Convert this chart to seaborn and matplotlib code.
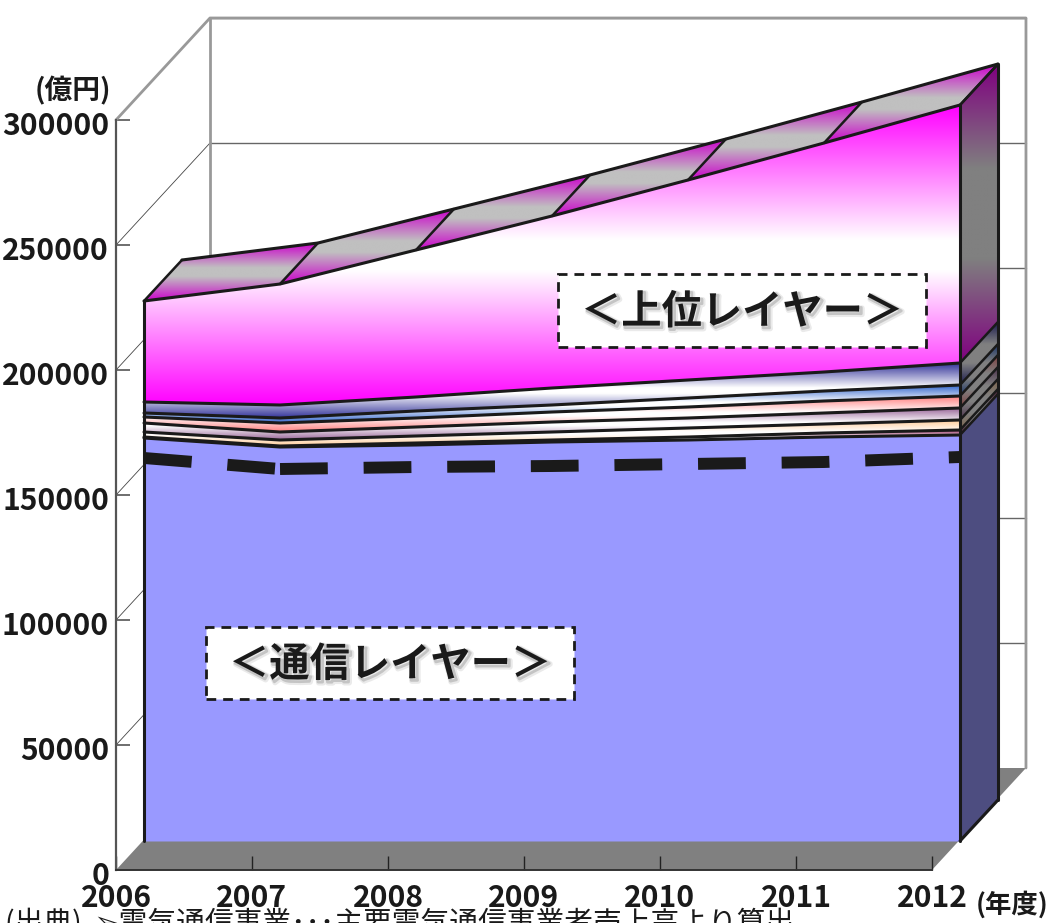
import numpy as np
import pandas as pd
import matplotlib
matplotlib.use('Agg')
import matplotlib.pyplot as plt
import matplotlib.patheffects as pe
from matplotlib.colors import to_rgb
from matplotlib.patches import Polygon, Rectangle
from matplotlib.transforms import ScaledTranslation
import seaborn as sns

years = [2006, 2007, 2008, 2009, 2010, 2011, 2012]
y_ticks = [0, 50000, 100000, 150000, 200000, 250000, 300000]

# stacked layers, bottom to top (oku yen)
tsushin = [161200, 157600, 158400, 159600, 160400, 161600, 162400]
layer_a = [400, 400, 800, 800, 1200, 1600, 2000]
layer_b = [2000, 2400, 2800, 3200, 3600, 3600, 4000]
layer_c = [3600, 3200, 3600, 4000, 4000, 4400, 4800]
layer_d = [2400, 3600, 3600, 4000, 4400, 4800, 4800]
layer_e = [1600, 2000, 2800, 2800, 3600, 4000, 4400]
layer_f = [4400, 5200, 5600, 6800, 7200, 7600, 8800]
layer_g = [40400, 48400, 58800, 68800, 80000, 91600, 103200]
dashed_total = [153200, 148800, 149600, 150000, 150800, 151600, 153600]

layer_colors = ['#993366', '#ffcc99', '#996699', '#ff8080', '#3366cc', '#333399', '#ff00ff']

W, H = 1057, 923
sns.set_theme(style='white')
plt.rcParams['font.family'] = ['Noto Sans CJK JP', 'DejaVu Sans']

fig = plt.figure(figsize=(W / 100, H / 100), dpi=100)
ax = fig.add_axes([116 / W, (H - 870) / H, 816 / W, 750 / H])
ax.set_facecolor('none')
ax.set_autoscale_on(False)
ax.set_xlim(2006, 2012)
ax.set_ylim(0, 300000)

# depth offsets of the fake 3d box, in data units
wall_dx, wall_dy = 0.691, 40800
front_dx, front_dy = 0.206, 11600
back_dx, back_dy = 0.485, 28000


def line(xs, ys, color='k', lw=2.2, z=5, **kw):
    sns.lineplot(x=list(xs), y=list(ys), ax=ax, color=color, linewidth=lw, zorder=z,
                 estimator=None, sort=False, clip_on=False, **kw)


def grad_poly(xs, ys, edge, mid, z, flat=0.15):
    # vertical gradient over the polygon's box: edge colour at both ends, mid in the centre
    edge, mid = np.array(to_rgb(edge)), np.array(to_rgb(mid))
    t = np.abs(np.linspace(-1, 1, 256))
    t = np.clip((t - flat) / (1 - flat), 0, 1)[:, None, None]
    arr = mid[None, None, :] + (edge - mid)[None, None, :] * t
    im = ax.imshow(arr, extent=[min(xs), max(xs), min(ys), max(ys)], origin='lower',
                   aspect='auto', zorder=z, interpolation='bilinear')
    im.set_clip_box(fig.bbox)
    im.set_clip_path(Polygon(np.column_stack([xs, ys]), closed=True, transform=ax.transData))


def shade(c, f):
    return tuple(np.array(to_rgb(c)) * f)


x = np.array(years, dtype=float)

# floor and walls
ax.add_patch(Polygon([[2006, 0], [2012, 0], [2012 + wall_dx, wall_dy], [2006 + wall_dx, wall_dy]],
                     closed=True, fc='#808080', ec='none', zorder=0.5, clip_on=False))
for v in y_ticks[1:-1]:
    line([2006, 2006 + wall_dx], [v, v + wall_dy], color='#444444', lw=0.6, z=0.7)
for v in y_ticks[1:]:
    line([2006 + wall_dx, 2012 + wall_dx], [v + wall_dy] * 2, color='#666666', lw=1.0, z=0.7)
top = y_ticks[-1]
line([2006, 2006 + wall_dx, 2012 + wall_dx, 2012 + wall_dx],
     [top, top + wall_dy, top + wall_dy, wall_dy], color='#999999', lw=2.0, z=0.8)
line([2006 + wall_dx, 2006 + wall_dx], [wall_dy, top + wall_dy], color='#999999', lw=2.0, z=0.8)

# stacked layers
layers = [layer_a, layer_b, layer_c, layer_d, layer_e, layer_f, layer_g]
bounds = np.cumsum(np.vstack([tsushin] + layers), axis=0)
fx = x + front_dx
bx_end = 2012 + back_dx
fx_end = 2012 + front_dx

# communications layer: flat colours
ax.fill_between(fx, front_dy, bounds[0] + front_dy, color='#9999ff', lw=0, zorder=3, clip_on=False)
ax.add_patch(Polygon([[fx_end, front_dy], [bx_end, back_dy],
                      [bx_end, bounds[0][-1] + back_dy], [fx_end, bounds[0][-1] + front_dy]],
                     closed=True, fc='#4d4d80', ec='none', zorder=3, clip_on=False))

z = 3.1
for i, c in enumerate(layer_colors):
    lo, hi = bounds[i] + front_dy, bounds[i + 1] + front_dy
    grad_poly(np.r_[fx, fx[::-1]], np.r_[lo, hi[::-1]], c, '#ffffff', z, flat=0.1)
    side_x = [fx_end, bx_end, bx_end, fx_end]
    side_y = [bounds[i][-1] + front_dy, bounds[i][-1] + back_dy,
              bounds[i + 1][-1] + back_dy, bounds[i + 1][-1] + front_dy]
    grad_poly(side_x, side_y, shade(c, 0.5), '#808080', z, flat=0.3)
    z += 0.01

# top face, one slab per year
top_v = bounds[-1]
for i in range(len(years) - 1):
    sx = [fx[i], fx[i + 1], x[i + 1] + back_dx, x[i] + back_dx]
    sy = [top_v[i] + front_dy, top_v[i + 1] + front_dy, top_v[i + 1] + back_dy, top_v[i] + back_dy]
    grad_poly(sx, sy, shade(layer_colors[-1], 0.8), '#c0c0c0', 3.5, flat=0.15)

# outlines
for b in bounds:
    line(fx, b + front_dy)
    line([fx_end, bx_end], [b[-1] + front_dy, b[-1] + back_dy], lw=1.8)
line(x + back_dx, top_v + back_dy)
for i in range(len(years)):
    line([fx[i], x[i] + back_dx], [top_v[i] + front_dy, top_v[i] + back_dy], lw=1.8)
line([fx[0], fx[0]], [front_dy, top_v[0] + front_dy])
line([fx_end, fx_end], [front_dy, top_v[-1] + front_dy])
line([bx_end, bx_end], [back_dy, top_v[-1] + back_dy])
line([fx_end, bx_end], [front_dy, back_dy])

# dashed line inside the communications layer, the dash pattern restarts after 2007
dashed = np.array(dashed_total) + front_dy
line(fx[:2], dashed[:2], lw=8.6, z=4, linestyle=(0, (4, 3)), dash_capstyle='butt')
line(fx[1:], dashed[1:], lw=8.6, z=4, linestyle=(0, (4, 3)), dash_capstyle='butt')

# real axes
ax.set_xlim(2006, 2012)
ax.set_ylim(0, 300000)
for s in ['top', 'right']:
    ax.spines[s].set_visible(False)
ax.spines['left'].set_color('#555555')
ax.spines['left'].set_linewidth(1.6)
ax.spines['bottom'].set_color('#333333')
ax.spines['bottom'].set_linewidth(1.4)
ax.set_xticks(years)
ax.set_yticks(y_ticks)
ax.set_xticklabels([str(v) for v in years], fontweight='bold', fontsize=21.6, color='k')
ax.set_yticklabels([str(v) for v in y_ticks], fontweight='bold', fontsize=21.6, color='k')
ax.tick_params(axis='x', direction='in', length=10, width=1, color='#222222', pad=7, bottom=True)
ax.tick_params(axis='y', direction='in', length=10, width=1.2, color='#555555', pad=5, left=True)
down = ScaledTranslation(0, -3 / 100, fig.dpi_scale_trans)
for lab in ax.get_yticklabels() + ax.get_xticklabels():
    lab.set_transform(lab.get_transform() + down)


def px_text(px, py, s, **kw):
    return fig.text(px / W, 1 - py / H, s, **kw)


px_text(73, 91, '(億円)', fontsize=20, fontweight='bold', ha='center', va='center', color='k')
px_text(1012, 905, '(年度)', fontsize=19, fontweight='bold', ha='center', va='center', color='k')
px_text(5, 923, '(出典)  ➢電気通信事業･･･主要電気通信事業者売上高より算出', fontsize=20.7, ha='left', va='center', color='k')

# callout boxes
boxes = [(558, 274, 368, 73, '＜上位レイヤー＞'), (206, 627, 368, 72, '＜通信レイヤー＞')]
for bx, by, bw, bh, label in boxes:
    fig.add_artist(Rectangle((bx / W, 1 - (by + bh) / H), bw / W, bh / H, transform=fig.transFigure,
                             fc='white', ec='k', lw=2, ls=(0, (3.5, 2.5))))
    t = px_text(bx + bw / 2, by + bh / 2 + 2, label, fontsize=29, fontweight='bold',
                ha='center', va='center', color='k')
    t.set_path_effects([pe.SimpleLineShadow(offset=(2, -2), alpha=0.12, shadow_color='#555555', linewidth=4),
                        pe.SimpleLineShadow(offset=(1.5, -1.5), alpha=0.25, shadow_color='#555555', linewidth=2),
                        pe.Normal()])

fig.savefig('out.png', dpi=100)
